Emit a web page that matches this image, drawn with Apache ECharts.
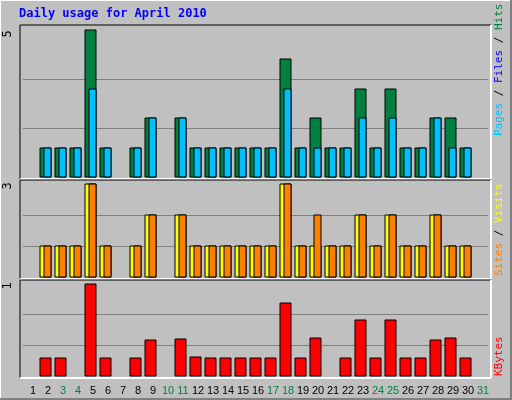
<!DOCTYPE html>
<html>
<head>
<meta charset="utf-8">
<script src="https://cdn.jsdelivr.net/npm/echarts@6/dist/echarts.min.js"></script>
<style>html,body{margin:0;padding:0;background:#c0c0c0}#chart{width:512px;height:400px}</style>
</head>
<body>
<div id="chart"></div>
<script>
var days = [];
for (var d = 1; d <= 31; d++) days.push(String(d));
var weekends = [3, 4, 10, 11, 17, 18, 24, 25, 31];

// day 1 .. 31, null = no bar
var hits   = [null,1,1,1,5,1,null,1,2,null,2,1,1,1,1,1,1,4,1,2,1,1,3,1,3,1,1,2,2,1,null];
var pages  = [null,1,1,1,3,1,null,1,2,null,2,1,1,1,1,1,1,3,1,1,1,1,2,1,2,1,1,2,1,1,null];
var visits = [null,1,1,1,3,1,null,1,2,null,2,1,1,1,1,1,1,3,1,1,1,1,2,1,2,1,1,2,1,1,null];
var sites  = [null,1,1,1,3,1,null,1,2,null,2,1,1,1,1,1,1,3,1,2,1,1,2,1,2,1,1,2,1,1,null];
var kbytes = [null,0.2,0.2,null,1,0.2,null,0.2,0.39,null,0.4,0.21,0.2,0.2,0.2,0.2,0.2,0.79,0.2,0.41,null,0.2,0.61,0.2,0.61,0.2,0.2,0.39,0.41,0.2,null];

var chart = echarts.init(document.getElementById("chart"));

function barSeries(data, idx, color, width, offset) {
  return {
    type: "custom",
    xAxisIndex: idx,
    yAxisIndex: idx,
    data: data.map(function(v, i) { return [i, v]; }),
    renderItem: function(params, api) {
      var v = api.value(1);
      if (v == null || isNaN(v)) return null;
      var top = api.coord([api.value(0), v]);
      var base = api.coord([api.value(0), 0]);
      return {
        type: "rect",
        shape: { x: Math.round(top[0] - 5.5 + offset), y: Math.round(top[1]), width: width, height: Math.round(base[1] - top[1]) },
        style: { fill: color, stroke: "#000", lineWidth: 1 }
      };
    }
  };
}

function panel(y1, y2) {
  return [
    { type: "line", shape: { x1: 20, y1: y1, x2: 491, y2: y1 }, style: { stroke: "#000", lineWidth: 1 } },
    { type: "line", shape: { x1: 20, y1: y1, x2: 20, y2: y2 }, style: { stroke: "#000", lineWidth: 1 } },
    { type: "line", shape: { x1: 20, y1: y2, x2: 491, y2: y2 }, style: { stroke: "#fff", lineWidth: 2 } },
    { type: "line", shape: { x1: 491, y1: y1, x2: 491, y2: y2 }, style: { stroke: "#fff", lineWidth: 2 } }
  ];
}

var grids = [
  { left: 23, width: 465, top: 30, height: 147, max: 5 },
  { left: 23, width: 465, top: 184, height: 93, max: 3 },
  { left: 23, width: 465, top: 284, height: 92, max: 1 }
];

var mono = "DejaVu Sans Mono";
var option = {
  backgroundColor: "#c0c0c0",
  animation: false,
  grid: grids.map(function(g) { return { left: g.left, width: g.width, top: g.top, height: g.height }; }),
  xAxis: grids.map(function(g, i) {
    return {
      type: "category", gridIndex: i, data: days,
      axisLine: { show: false }, axisTick: { show: false },
      axisLabel: {
        show: i === 2, interval: 0, margin: 9, fontSize: 11, fontFamily: "Liberation Sans",
        padding: [0, 0, 0, 5],
        color: function(v) { return weekends.indexOf(+v) >= 0 ? "#008040" : "#000"; }
      }
    };
  }),
  yAxis: grids.map(function(g, i) {
    return {
      type: "value", gridIndex: i, min: 0, max: g.max, interval: g.max / 3,
      axisLabel: { show: false }, axisLine: { show: false }, axisTick: { show: false },
      splitLine: { showMaxLine: false, showMinLine: false, lineStyle: { color: "#808080", width: 1 } }
    };
  }),
  series: [
    barSeries(hits, 0, "#008040", 11, 0),
    barSeries(pages, 0, "#00c0ff", 7, 4),
    barSeries(visits, 1, "#ffff00", 11, 0),
    barSeries(sites, 1, "#ff8000", 7, 4),
    barSeries(kbytes, 2, "#ff0000", 11, 0)
  ],
  graphic: [].concat(
    [
      { type: "line", shape: { x1: 0, y1: 0.5, x2: 512, y2: 0.5 }, style: { stroke: "#fff" } },
      { type: "line", shape: { x1: 0.5, y1: 0, x2: 0.5, y2: 400 }, style: { stroke: "#fff" } },
      { type: "line", shape: { x1: 0, y1: 399, x2: 512, y2: 399 }, style: { stroke: "#808080", lineWidth: 2 } },
      { type: "line", shape: { x1: 511, y1: 0, x2: 511, y2: 400 }, style: { stroke: "#808080", lineWidth: 2 } },
      { type: "text", left: 19, top: 8, style: { text: "Daily usage for April 2010", fill: "#0000ff", font: "bold 12px " + mono } }
    ],
    panel(25, 179), panel(180, 279), panel(280, 378),
    [
      { type: "text", x: 8, y: 34, rotation: Math.PI / 2, style: { text: "5", fill: "#000", font: "12px " + mono, align: "center", verticalAlign: "middle" } },
      { type: "text", x: 8, y: 186, rotation: Math.PI / 2, style: { text: "3", fill: "#000", font: "12px " + mono, align: "center", verticalAlign: "middle" } },
      { type: "text", x: 8, y: 286, rotation: Math.PI / 2, style: { text: "1", fill: "#000", font: "12px " + mono, align: "center", verticalAlign: "middle" } },
      { type: "text", x: 499, y: 136, rotation: Math.PI / 2, style: {
        text: "{p|Pages} / {f|Files} / {h|Hits}", fill: "#000", font: "11px " + mono, verticalAlign: "middle",
        rich: { p: { fill: "#00c0ff", font: "11px " + mono }, f: { fill: "#0000ff", font: "11px " + mono }, h: { fill: "#008040", font: "11px " + mono } }
      } },
      { type: "text", x: 499, y: 276, rotation: Math.PI / 2, style: {
        text: "{s|Sites} / {v|Visits}", fill: "#000", font: "11px " + mono, verticalAlign: "middle",
        rich: { s: { fill: "#ff8000", font: "11px " + mono }, v: { fill: "#ffff00", font: "11px " + mono } }
      } },
      { type: "text", x: 499, y: 376, rotation: Math.PI / 2, style: { text: "KBytes", fill: "#ff0000", font: "11px " + mono, verticalAlign: "middle" } }
    ]
  )
};

chart.setOption(option);
</script>
</body>
</html>
